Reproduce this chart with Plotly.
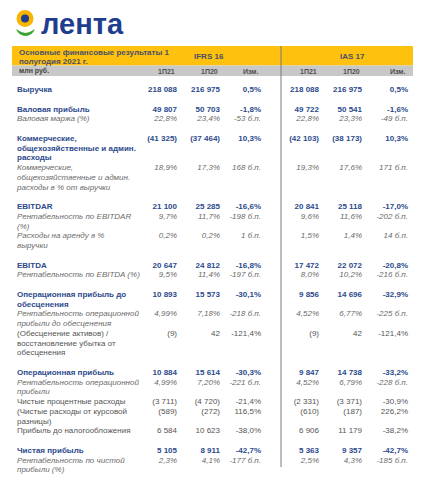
import plotly.graph_objects as go

# ---------------- data ----------------
row_labels = [
    "Выручка",
    "Валовая прибыль",
    "Валовая маржа (%)",
    "Коммерческие,\nобщехозяйственные и админ.\nрасходы",
    "Коммерческие,\nобщехозяйственные и админ.\nрасходы в % от выручки",
    "EBITDAR",
    "Рентабельность по EBITDAR\n(%)",
    "Расходы на аренду в %\nвыручки",
    "EBITDA",
    "Рентабельность по EBITDA (%)",
    "Операционная прибыль до\nобесценения",
    "Рентабельность операционной\nприбыли до обесценения",
    "(Обесценение активов) /\nвосстановление убытка от\nобесценения",
    "Операционная прибыль",
    "Рентабельность операционной\nприбыли",
    "Чистые процентные расходы",
    "(Чистые расходы от курсовой\nразницы)",
    "Прибыль до налогообложения",
    "Чистая прибыль",
    "Рентабельность по чистой\nприбыли (%)",
]
ifrs_1h21 = ["218 088", "49 807", "22,8%", "(41 325)", "18,9%", "21 100", "9,7%", "0,2%",
             "20 647", "9,5%", "10 893", "4,99%", "(9)", "10 884", "4,99%", "(3 711)",
             "(589)", "6 584", "5 105", "2,3%"]
ifrs_1h20 = ["216 975", "50 703", "23,4%", "(37 464)", "17,3%", "25 285", "11,7%", "0,2%",
             "24 812", "11,4%", "15 573", "7,18%", "42", "15 614", "7,20%", "(4 720)",
             "(272)", "10 623", "8 911", "4,1%"]
ifrs_chg = ["0,5%", "-1,8%", "-53 б.п.", "10,3%", "168 б.п.", "-16,6%", "-198 б.п.", "1 б.п.",
            "-16,8%", "-197 б.п.", "-30,1%", "-218 б.п.", "-121,4%", "-30,3%", "-221 б.п.",
            "-21,4%", "116,5%", "-38,0%", "-42,7%", "-177 б.п."]
ias_1h21 = ["218 088", "49 722", "22,8%", "(42 103)", "19,3%", "20 841", "9,6%", "1,5%",
            "17 472", "8,0%", "9 856", "4,52%", "(9)", "9 847", "4,52%", "(2 331)",
            "(610)", "6 906", "5 363", "2,5%"]
ias_1h20 = ["216 975", "50 541", "23,3%", "(38 173)", "17,6%", "25 118", "11,6%", "1,4%",
            "22 072", "10,2%", "14 696", "6,77%", "42", "14 738", "6,79%", "(3 371)",
            "(187)", "11 179", "9 357", "4,3%"]
ias_chg = ["0,5%", "-1,6%", "-49 б.п.", "10,3%", "171 б.п.", "-17,0%", "-202 б.п.", "14 б.п.",
           "-20,8%", "-216 б.п.", "-32,9%", "-225 б.п.", "-121,4%", "-33,2%", "-228 б.п.",
           "-30,9%", "226,2%", "-38,2%", "-42,7%", "-185 б.п."]
row_styles = ["bold", "bold", "italic", "bold", "italic", "bold", "italic", "italic",
              "bold", "italic", "bold", "italic", "plain", "bold", "italic", "plain",
              "plain", "plain", "bold", "italic"]
row_gap = [True, True, False, True, False, True, False, False, True, False, True, False,
           False, True, False, False, False, False, True, False]

title_lines = ["Основные финансовые результаты 1", "полугодия 2021 г."]
group_labels = ["IFRS 16", "IAS 17"]
unit_label = "млн руб."
col_headers = ["1П21", "1П20", "Изм.", "1П21", "1П20", "Изм."]
logo_text = "лента"

# ---------------- layout constants ----------------
FONT = "Liberation Sans, Arial, Helvetica, sans-serif"
BLUE = "#2c4a8c"
GRAY_I = "#6a6a6a"
GRAY_P = "#555555"
HEAD = "#4a5068"
YELLOW = "#FDC10E"
BAND = "#C8C8C8"
LINE = 9.75
Y0 = 90
LABEL_X = 17
COL_X = [177, 220, 261, 319, 362, 408]
GROUP_X = [209, 352]
PAGE_OFF = 8  # page body margin

colors = {"bold": BLUE, "italic": GRAY_I, "plain": GRAY_P}


def styled(t, s):
    if s == "bold":
        return f"<b>{t}</b>"
    if s == "italic":
        return f"<i>{t}</i>"
    return t


lab_y, lab_t, lab_c = [], [], []
val_y, val_c, val_s = [], [], []
line = 0
for i, lab in enumerate(row_labels):
    if row_gap[i] and i > 0:
        line += 1
    s = row_styles[i]
    val_y.append(Y0 + line * LINE)
    val_c.append(colors[s])
    val_s.append(s)
    for p in lab.split("\n"):
        lab_y.append(Y0 + line * LINE)
        lab_t.append(styled(p, s))
        lab_c.append(colors[s])
        line += 1

fig = go.Figure()

fig.add_trace(go.Scatter(
    x=[LABEL_X] * len(lab_y), y=lab_y, text=lab_t, mode="text",
    textposition="middle right",
    textfont=dict(family=FONT, size=8, color=lab_c),
    hoverinfo="skip", cliponaxis=False))

for j, col in enumerate([ifrs_1h21, ifrs_1h20, ifrs_chg, ias_1h21, ias_1h20, ias_chg]):
    fig.add_trace(go.Scatter(
        x=[COL_X[j]] * len(col), y=val_y,
        text=[styled(v, s) for v, s in zip(col, val_s)], mode="text",
        textposition="middle left",
        textfont=dict(family=FONT, size=8, color=val_c),
        hoverinfo="skip", cliponaxis=False))

annotations = []
for k, t in enumerate(title_lines):
    annotations.append(dict(x=LABEL_X, y=52 + k * 9, text=f"<b>{t}</b>", xref="x", yref="y",
                            xanchor="left", yanchor="middle", showarrow=False,
                            font=dict(family=FONT, size=8, color=HEAD)))
for gx, g in zip(GROUP_X, group_labels):
    annotations.append(dict(x=gx, y=56, text=f"<b>{g}</b>", xref="x", yref="y",
                            xanchor="center", yanchor="middle", showarrow=False,
                            font=dict(family=FONT, size=8, color=HEAD)))
annotations.append(dict(x=LABEL_X, y=71, text=f"<b>{unit_label}</b>", xref="x", yref="y",
                        xanchor="left", yanchor="middle", showarrow=False,
                        font=dict(family=FONT, size=7, color="#444444")))
for cx, h in zip(COL_X, col_headers):
    annotations.append(dict(x=cx, y=71, text=f"<b>{h}</b>", xref="x", yref="y",
                            xanchor="right", yanchor="middle", showarrow=False,
                            font=dict(family=FONT, size=7, color="#505050")))
annotations.append(dict(x=39, y=24, text=f"<b>{logo_text}</b>", xref="x", yref="y",
                        xanchor="left", yanchor="middle", showarrow=False,
                        font=dict(family=FONT, size=29, color="#1f3d8e")))

shapes = [
    dict(type="rect", x0=12, x1=413, y0=46, y1=65.5, xref="x", yref="y",
         fillcolor=YELLOW, line=dict(width=0), layer="below"),
    dict(type="rect", x0=12, x1=413, y0=65.5, y1=76, xref="x", yref="y",
         fillcolor=BAND, line=dict(width=0), layer="below"),
    dict(type="line", x0=281, x1=281, y0=46, y1=467, xref="x", yref="y",
         line=dict(color="#7a7a7a", width=1), layer="above"),
    # logo sunflower
    dict(type="path", path="M 16,29 Q 19,36 25.5,36 Q 32,36 35,29 Q 30,32.5 25.5,33 Q 21,32.5 16,29 Z",
         xref="x", yref="y", fillcolor="#3aa535", line=dict(width=0)),
    dict(type="circle", x0=16.5, x1=33.5, y0=10, y1=27, xref="x", yref="y",
         fillcolor="#F7B500", line=dict(width=0)),
    dict(type="circle", x0=21, x1=29, y0=14.5, y1=22.5, xref="x", yref="y",
         fillcolor="#1f3d8e", line=dict(width=0)),
]

fig.update_layout(
    width=430 - PAGE_OFF, height=480 - PAGE_OFF, autosize=False,
    margin=dict(l=0, r=0, t=0, b=0),
    paper_bgcolor="white", plot_bgcolor="white",
    showlegend=False,
    xaxis=dict(range=[PAGE_OFF, 430], visible=False, fixedrange=True),
    yaxis=dict(range=[480, PAGE_OFF], visible=False, fixedrange=True),
    annotations=annotations, shapes=shapes,
)

fig.write_html("out.html")
